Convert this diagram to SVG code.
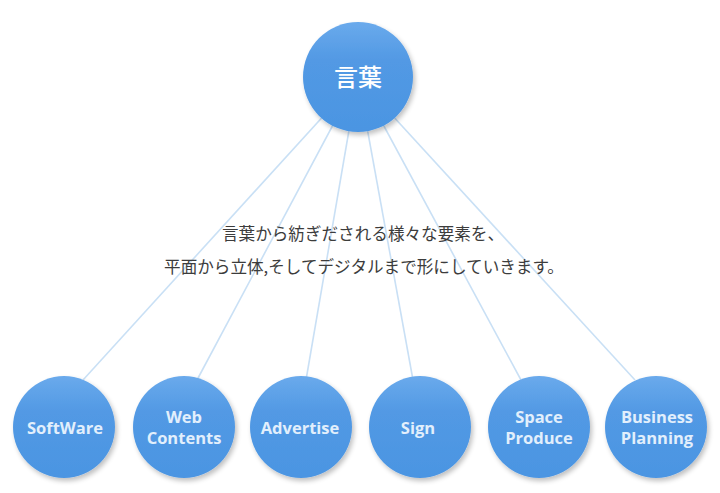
<svg xmlns="http://www.w3.org/2000/svg" width="720" height="493" viewBox="0 0 720 493">
<defs>
<linearGradient id="g" x1="0" y1="0" x2="0" y2="1">
<stop offset="0" stop-color="#6aaaec"/>
<stop offset="0.35" stop-color="#5299e4"/>
<stop offset="1" stop-color="#4b95e2"/>
</linearGradient>
<filter id="sh" x="-20%" y="-20%" width="150%" height="150%">
<feGaussianBlur in="SourceAlpha" stdDeviation="2.5"/>
<feOffset dx="2" dy="3" result="b"/>
<feComponentTransfer><feFuncA type="linear" slope="0.25"/></feComponentTransfer>
<feMerge><feMergeNode/><feMergeNode in="SourceGraphic"/></feMerge>
</filter>
</defs>
<style>
.c{fill:url(#g);filter:url(#sh)}
.l{stroke:#c9e0f5;stroke-width:1.6;fill:none}
.t{font-family:"Open Sans","Liberation Sans",sans-serif;font-weight:bold;font-size:16.5px;fill:#e2effc;text-anchor:middle}
.j{font-family:"Noto Sans CJK JP",sans-serif;font-size:16.6px;fill:#3c3c3c;text-anchor:middle}
</style>
<rect width="720" height="493" fill="#ffffff"/>
<g id="connectors">
<line class="l" x1="358" y1="78" x2="83" y2="380"/>
<line class="l" x1="358" y1="78" x2="197" y2="380"/>
<line class="l" x1="358" y1="78" x2="306" y2="380"/>
<line class="l" x1="358" y1="78" x2="413" y2="380"/>
<line class="l" x1="358" y1="78" x2="521" y2="380"/>
<line class="l" x1="358" y1="78" x2="635" y2="380"/>
</g>
<g id="caption">
<text class="j" x="363" y="240">言葉から紡ぎだされる様々な要素を、</text>
<text class="j" x="364" y="273">平面から立体,そしてデジタルまで形にしていきます。</text>
</g>
<g id="kotoba">
<circle class="c" cx="358" cy="77" r="55"/>
<text x="358" y="86" style="font-family:'Noto Sans CJK JP',sans-serif;font-weight:500;font-size:24px;fill:#ffffff;text-anchor:middle">言葉</text>
</g>
<g id="software">
<circle class="c" cx="64" cy="427" r="51"/>
<text class="t" x="65" y="434">SoftWare</text>
</g>
<g id="web-contents">
<circle class="c" cx="184" cy="427" r="51"/>
<text class="t" x="184" y="423">Web</text>
<text class="t" x="184" y="444">Contents</text>
</g>
<g id="advertise">
<circle class="c" cx="301" cy="427" r="51"/>
<text class="t" x="300" y="434">Advertise</text>
</g>
<g id="sign">
<circle class="c" cx="420" cy="427" r="51"/>
<text class="t" x="418" y="434">Sign</text>
</g>
<g id="space-produce">
<circle class="c" cx="539" cy="427" r="51"/>
<text class="t" x="539" y="423">Space</text>
<text class="t" x="539" y="444">Produce</text>
</g>
<g id="business-planning">
<circle class="c" cx="656" cy="427" r="51"/>
<text class="t" x="657" y="423">Business</text>
<text class="t" x="657" y="444">Planning</text>
</g>
</svg>
